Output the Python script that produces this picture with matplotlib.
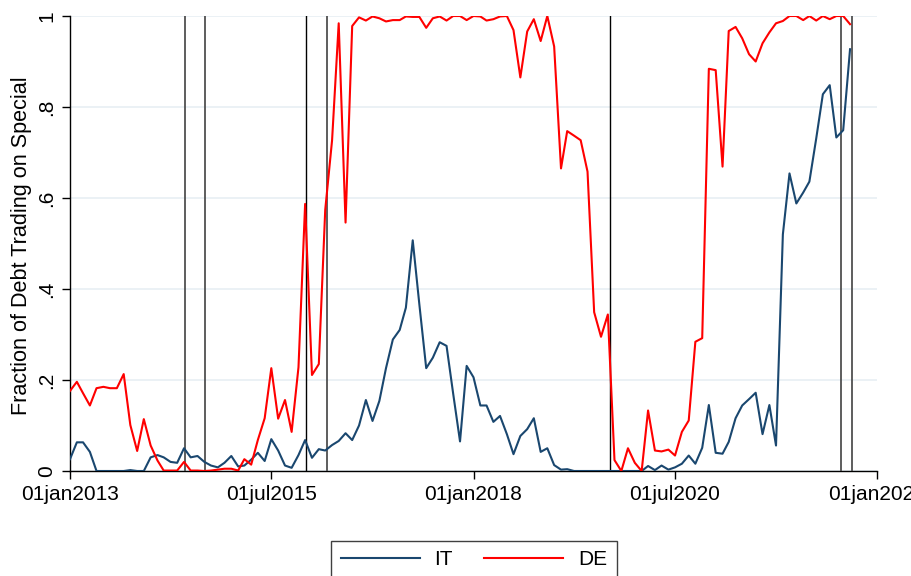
import matplotlib
matplotlib.use("Agg")
import matplotlib.pyplot as plt
import pandas as pd

plt.rcParams['font.family'] = ['Liberation Sans', 'DejaVu Sans']

# monthly observations, Jan 2013 - Sep 2022
dates = pd.date_range('2013-01-01', periods=117, freq='MS')

it = [0.026, 0.063, 0.063, 0.042, 0.0, 0.0, 0.0, 0.0, 0.0, 0.002,
      0.0, 0.0, 0.03, 0.035, 0.03, 0.02, 0.018, 0.05, 0.03, 0.033,
      0.02, 0.012, 0.008, 0.018, 0.033, 0.01, 0.012, 0.025, 0.04, 0.022,
      0.07, 0.045, 0.012, 0.007, 0.035, 0.068, 0.029, 0.048, 0.045, 0.057,
      0.066, 0.083, 0.068, 0.1, 0.156, 0.11, 0.154, 0.226, 0.289, 0.31,
      0.359, 0.507, 0.366, 0.226, 0.249, 0.283, 0.275, 0.17, 0.065, 0.231,
      0.206, 0.144, 0.144, 0.108, 0.121, 0.081, 0.037, 0.077, 0.092, 0.116,
      0.042, 0.05, 0.013, 0.003, 0.004, 0.0, 0.0, 0.0, 0.0, 0.0,
      0.0, 0.0, 0.0, 0.0, 0.0, 0.0, 0.011, 0.002, 0.012, 0.003,
      0.008, 0.016, 0.034, 0.016, 0.051, 0.145, 0.04, 0.038, 0.064, 0.116,
      0.144, 0.158, 0.172, 0.081, 0.145, 0.056, 0.52, 0.654, 0.588, 0.612,
      0.636, 0.731, 0.828, 0.848, 0.733, 0.749, 0.927]

de = [0.176, 0.196, 0.171, 0.144, 0.182, 0.185, 0.182, 0.182, 0.213, 0.101,
      0.044, 0.114, 0.056, 0.023, 0.001, 0.001, 0.001, 0.02, 0.001, 0.001,
      0.0, 0.001, 0.003, 0.005, 0.005, 0.001, 0.026, 0.014, 0.068, 0.116,
      0.226, 0.115, 0.156, 0.086, 0.228, 0.587, 0.211, 0.235, 0.574, 0.727,
      0.984, 0.546, 0.978, 0.997, 0.99, 0.999, 0.995, 0.988, 0.991, 0.991,
      0.999, 0.998, 0.998, 0.974, 0.995, 0.999, 0.99, 1.0, 1.0, 0.991,
      1.0, 0.999, 0.99, 0.993, 0.999, 1.0, 0.969, 0.865, 0.966, 0.993,
      0.945, 1.0, 0.933, 0.665, 0.747, 0.737, 0.727, 0.658, 0.349, 0.295,
      0.344, 0.024, 0.0, 0.05, 0.018, 0.0, 0.133, 0.045, 0.043, 0.047,
      0.034, 0.086, 0.111, 0.284, 0.292, 0.884, 0.881, 0.669, 0.967, 0.976,
      0.951, 0.916, 0.9, 0.94, 0.964, 0.984, 0.989, 1.0, 1.0, 0.991,
      1.0, 0.99, 1.0, 0.993, 1.0, 1.0, 0.982]

# policy event dates (vertical lines)
events_dark = ['2015-12-03', '2019-09-12']
events_grey = ['2014-06-05', '2014-09-04', '2016-03-10', '2022-07-21', '2022-09-08']

xtick_dates = ['2013-01-01', '2015-07-01', '2018-01-01', '2020-07-01', '2023-01-01']
ytick_vals = [0, 0.2, 0.4, 0.6, 0.8, 1]
ytick_labels = ['0', '.2', '.4', '.6', '.8', '1']

fig = plt.figure(figsize=(9.12, 5.76), dpi=100)
ax = fig.add_axes([70/912, 1-471/576, (877-70)/912, (471-16)/576])

for d in events_grey:
    ax.axvline(pd.Timestamp(d), color='#505050', lw=1.3, zorder=3)
for d in events_dark:
    ax.axvline(pd.Timestamp(d), color='black', lw=1.0, zorder=3)

ax.plot(dates, it, color='#1a476f', lw=1.5, label='IT', zorder=4)
ax.plot(dates, de, color='#ff0000', lw=1.5, label='DE', zorder=4)

ax.set_xlim(pd.Timestamp('2013-01-01'), pd.Timestamp('2023-01-01'))
ax.set_ylim(0, 1)
xt = [pd.Timestamp(d) for d in xtick_dates]
ax.set_xticks(xt)
ax.set_xticklabels([t.strftime('%d%b%Y').lower() for t in xt], fontsize=15)
ax.set_yticks(ytick_vals)
ax.set_yticklabels(ytick_labels, fontsize=15, rotation=90, va='center')
ax.tick_params(axis='both', length=6, width=1, color='black', pad=4)
ax.grid(axis='y', color='#e8eff3', lw=1.2, zorder=0)
ax.set_axisbelow(True)
for s in ['top', 'right']:
    ax.spines[s].set_visible(False)
for s in ['left', 'bottom']:
    ax.spines[s].set_color('black')
    ax.spines[s].set_linewidth(1)

ax.set_ylabel('Fraction of Debt Trading on Special', fontsize=15.6)
ax.yaxis.set_label_coords((32 - 70) / 807, (471 - 246) / 455)

leg = fig.legend(loc='upper center', bbox_to_anchor=(474/912, 1-541/576), ncol=2,
                 fontsize=15, handlelength=3.8, handletextpad=0.7, columnspacing=1.5,
                 borderpad=0.45, borderaxespad=0, fancybox=False, framealpha=1,
                 edgecolor='#404040')
leg.get_frame().set_linewidth(1)

fig.savefig('out.png', dpi=100)
